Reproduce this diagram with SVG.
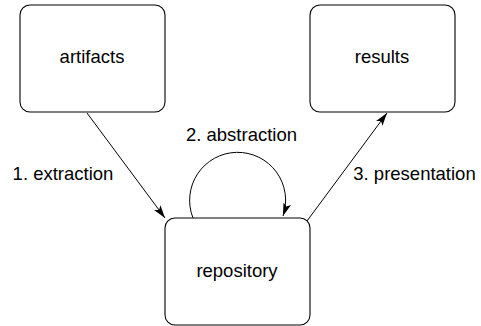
<svg xmlns="http://www.w3.org/2000/svg" width="481" height="326" viewBox="0 0 481 326">
<style>
.box{fill:#fff;stroke:#000;stroke-width:1.1}
.lbl{font-family:"Liberation Sans",Arial,sans-serif;font-size:18.5px;fill:#000;text-anchor:middle}
.edge{fill:none;stroke:#000;stroke-width:1}
</style>
<defs>
<marker id="ah" markerUnits="userSpaceOnUse" markerWidth="14" markerHeight="10" refX="13" refY="4" orient="auto">
<path d="M0,0 L13,4 L0,8 L3,4 z" fill="#000"/>
</marker>
</defs>
<rect width="481" height="326" fill="#fff"/>
<g id="connectors">
<line class="edge" x1="87" y1="113" x2="165" y2="218" marker-end="url(#ah)"/>
<line class="edge" x1="307" y1="221" x2="387" y2="113" marker-end="url(#ah)"/>
<path class="edge" d="M193,218 A48,48 0 1 1 283,216" marker-end="url(#ah)"/>
<text class="lbl" x="63" y="180">1. extraction</text>
<text class="lbl" x="241.5" y="141">2. abstraction</text>
<text class="lbl" x="414.5" y="180">3. presentation</text>
</g>
<g id="artifacts">
<rect class="box" x="20" y="5" width="145" height="107" rx="10"/>
<text class="lbl" x="92" y="63">artifacts</text>
</g>
<g id="results">
<rect class="box" x="310" y="5" width="145" height="107" rx="10"/>
<text class="lbl" x="382" y="63">results</text>
</g>
<g id="repository">
<rect class="box" x="165" y="218" width="145" height="107" rx="10"/>
<text class="lbl" x="237" y="277">repository</text>
</g>
</svg>
